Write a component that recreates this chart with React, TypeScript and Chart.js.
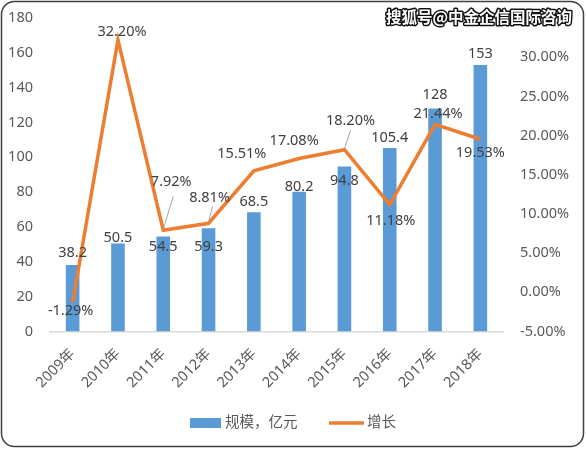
import React, { useEffect, useRef } from "react";
import { Chart, registerables } from "chart.js";

Chart.register(...registerables);

const categories = ["2009年", "2010年", "2011年", "2012年", "2013年", "2014年", "2015年", "2016年", "2017年", "2018年"];
const scaleValues = [38.2, 50.5, 54.5, 59.3, 68.5, 80.2, 94.8, 105.4, 128, 153];
const growthValues = [-1.29, 32.2, 7.92, 8.81, 15.51, 17.08, 18.2, 11.18, 21.44, 19.53];
const barSeriesName = "规模，亿元";
const lineSeriesName = "增长";
const watermark = "搜狐号@中金企信国际咨询";

// label placement offsets (pixels, relative to the mark)
const barLabelDy = [-12.5, -6, 10.5, 19, -10, -5, 14.5, -10, -13.5, -11];
const lineLabelDx = [-2, 4, 8, 1, -12, -5, 6, 1, 3, 0];
const lineLabelDy = [8, -8, -48, -25, -17, -18, -29, 16, -10, 14];
const leaderIdx = [2, 3, 6];
const leaderStart: Record<number, [number, number]> = { 2: [2, 14], 3: [3, 8], 6: [0, 10] };

const FONT = "'Noto Sans', 'Noto Sans CJK SC', sans-serif";
const BLUE = "#5B9BD5";
const ORANGE = "#ED7D31";
const TICK = "#595959";
const LABEL = "#404040";

export default function App() {
  const ref = useRef<HTMLCanvasElement>(null);
  useEffect(() => {
    document.body.style.margin = "0";
    const canvas = ref.current!;
    const decor = {
      id: "decor",
      afterDatasetsDraw(chart: any) {
        const ctx = chart.ctx;
        ctx.save();
        ctx.font = `14.5px ${FONT}`;
        ctx.fillStyle = LABEL;
        ctx.textAlign = "center";
        ctx.textBaseline = "middle";
        const bm = chart.getDatasetMeta(0);
        bm.data.forEach((el: any, i: number) => {
          ctx.fillText(String(scaleValues[i]), el.x, el.y + barLabelDy[i]);
        });
        const lm = chart.getDatasetMeta(1);
        ctx.strokeStyle = "#A6A6A6";
        ctx.lineWidth = 1;
        leaderIdx.forEach((i) => {
          const el = lm.data[i];
          const lx = el.x + lineLabelDx[i];
          const ly = el.y + lineLabelDy[i];
          const s = leaderStart[i];
          ctx.beginPath();
          ctx.moveTo(lx + s[0], ly + s[1]);
          ctx.lineTo(el.x, el.y - 1);
          ctx.stroke();
        });
        lm.data.forEach((el: any, i: number) => {
          ctx.fillText(growthValues[i].toFixed(2) + "%", el.x + lineLabelDx[i], el.y + lineLabelDy[i]);
        });
        ctx.restore();
      },
      afterDraw(chart: any) {
        const ctx = chart.ctx;
        ctx.save();
        // legend
        ctx.fillStyle = BLUE;
        ctx.fillRect(190, 418, 31, 10);
        ctx.font = `14.5px ${FONT}`;
        ctx.fillStyle = TICK;
        ctx.textBaseline = "middle";
        ctx.textAlign = "left";
        ctx.fillText(barSeriesName, 225, 423);
        ctx.strokeStyle = ORANGE;
        ctx.lineWidth = 3.5;
        ctx.beginPath();
        ctx.moveTo(329, 423);
        ctx.lineTo(364, 423);
        ctx.stroke();
        ctx.fillText(lineSeriesName, 367, 423);
        // watermark
        ctx.font = `bold 15.5px 'Noto Sans CJK SC', sans-serif`;
        ctx.textAlign = "right";
        ctx.textBaseline = "middle";
        ctx.lineJoin = "round";
        ctx.strokeStyle = "#111";
        ctx.lineWidth = 3;
        ctx.strokeText(watermark, 572, 17);
        ctx.fillStyle = "#fff";
        ctx.fillText(watermark, 572, 17);
        // border
        ctx.strokeStyle = "#404040";
        ctx.lineWidth = 1.5;
        ctx.beginPath();
        (ctx as any).roundRect(1.5, 1.5, 582, 445, 13);
        ctx.stroke();
        ctx.restore();
      },
    };
    const fixV = (w: number) => (s: any) => {
      s.width = w;
      s.paddingTop = 0;
      s.paddingBottom = 0;
    };
    const chart = new Chart(canvas, {
      type: "bar",
      data: {
        labels: categories,
        datasets: [
          {
            type: "bar",
            label: barSeriesName,
            data: scaleValues,
            backgroundColor: BLUE,
            barPercentage: 0.3,
            categoryPercentage: 1,
            yAxisID: "y",
            order: 1,
          },
          {
            type: "line",
            label: lineSeriesName,
            data: growthValues.map((v) => v / 100),
            borderColor: ORANGE,
            borderWidth: 3.5,
            pointRadius: 0,
            tension: 0,
            yAxisID: "y1",
            order: 0,
          } as any,
        ],
      },
      options: {
        responsive: false,
        animation: false,
        layout: { padding: { top: 18, left: 0, right: 0, bottom: 0 } },
        plugins: { legend: { display: false }, tooltip: { enabled: false } },
        scales: {
          x: {
            grid: { display: false },
            border: { display: true, color: "#D9D9D9", width: 1.5 },
            ticks: {
              color: TICK,
              font: { family: FONT, size: 14.5 },
              maxRotation: 45,
              minRotation: 45,
              padding: 6,
            },
            afterFit(s: any) {
              s.height = 117.5;
              s.paddingLeft = 0;
              s.paddingRight = 0;
            },
          },
          y: {
            position: "left",
            min: 0,
            max: 180,
            grid: { display: false, drawTicks: false },
            border: { display: false },
            ticks: { stepSize: 20, color: TICK, font: { family: FONT, size: 14.5 }, padding: 17 },
            afterFit: fixV(50),
          },
          y1: {
            position: "right",
            min: -0.05,
            max: 0.35,
            grid: { display: false, drawTicks: false },
            border: { display: false },
            ticks: {
              stepSize: 0.05,
              color: TICK,
              font: { family: FONT, size: 14.5 },
              padding: 17,
              callback: (v: any) => {
                const n = Number(v);
                if (n > 0.33) return "";
                const p = Math.abs(n) < 1e-9 ? 0 : n * 100;
                return p.toFixed(2) + "%";
              },
            },
            afterFit: fixV(83),
          },
        },
      },
      plugins: [decor],
    });
    return () => chart.destroy();
  }, []);
  return (
    <div style={{ width: 586, height: 449 }}>
      <canvas ref={ref} width={586} height={449} />
    </div>
  );
}
